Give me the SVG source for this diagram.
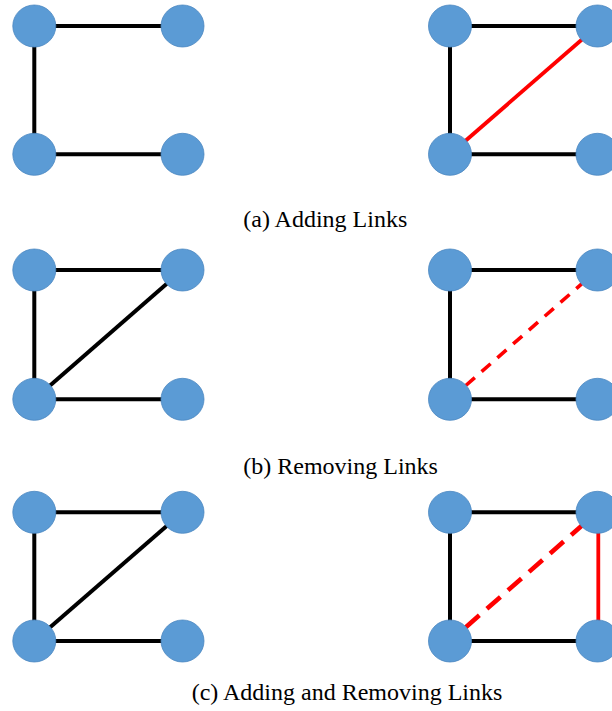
<svg xmlns="http://www.w3.org/2000/svg" width="612" height="711" viewBox="0 0 612 711">
  <style>
    .node { fill: #5B9BD5; stroke: #4A86C0; stroke-width: 0.8; }
    .edge { stroke: #000000; stroke-width: 4; fill: none; }
    .red { stroke: #FF0000; stroke-width: 3.8; fill: none; }
    .dash1 { stroke: #FF0000; stroke-width: 3.6; stroke-dasharray: 12 9; fill: none; }
    .dash2 { stroke: #FF0000; stroke-width: 4.6; stroke-dasharray: 18 10; fill: none; }
    .label { font-family: "Liberation Serif", "Times New Roman", serif; font-size: 24px; fill: #000000; }
  </style>
  <rect width="612" height="711" fill="#FFFFFF"/>
  <g id="connectors">
    <!-- (a) left -->
    <line class="edge" x1="34.3" y1="26" x2="182.5" y2="26"/>
    <line class="edge" x1="34.3" y1="26" x2="34.3" y2="154.3"/>
    <line class="edge" x1="34.3" y1="154.3" x2="182.5" y2="154.3"/>
    <!-- (a) right -->
    <line class="edge" x1="450" y1="26" x2="597.5" y2="26"/>
    <line class="edge" x1="450" y1="26" x2="450" y2="154.3"/>
    <line class="edge" x1="450" y1="154.3" x2="597.5" y2="154.3"/>
    <line class="red" x1="450" y1="154.3" x2="597.5" y2="26"/>
    <!-- (b) left -->
    <line class="edge" x1="34.3" y1="270" x2="182.5" y2="270"/>
    <line class="edge" x1="34.3" y1="270" x2="34.3" y2="399.3"/>
    <line class="edge" x1="34.3" y1="399.3" x2="182.5" y2="399.3"/>
    <line class="edge" x1="34.3" y1="399.3" x2="182.5" y2="270"/>
    <!-- (b) right -->
    <line class="edge" x1="450" y1="270" x2="597.5" y2="270"/>
    <line class="edge" x1="450" y1="270" x2="450" y2="399.3"/>
    <line class="edge" x1="450" y1="399.3" x2="597.5" y2="399.3"/>
    <line class="dash1" x1="465.8" y1="385.5" x2="581.7" y2="283.8"/>
    <!-- (c) left -->
    <line class="edge" x1="34.3" y1="512.3" x2="182.5" y2="512.3"/>
    <line class="edge" x1="34.3" y1="512.3" x2="34.3" y2="641"/>
    <line class="edge" x1="34.3" y1="641" x2="182.5" y2="641"/>
    <line class="edge" x1="34.3" y1="641" x2="182.5" y2="512.3"/>
    <!-- (c) right -->
    <line class="edge" x1="450" y1="512.3" x2="597.5" y2="512.3"/>
    <line class="edge" x1="450" y1="512.3" x2="450" y2="641"/>
    <line class="edge" x1="450" y1="641" x2="597.5" y2="641"/>
    <line class="dash2" x1="465.8" y1="627.2" x2="581.7" y2="525.8"/>
    <line class="red" x1="598.3" y1="512.3" x2="598.3" y2="641"/>
  </g>
  <g id="a-left-tl"><ellipse class="node" cx="34.3" cy="26" rx="21.5" ry="21"/></g>
  <g id="a-left-tr"><ellipse class="node" cx="182.5" cy="26" rx="21.5" ry="21"/></g>
  <g id="a-left-bl"><ellipse class="node" cx="34.3" cy="154.3" rx="21.5" ry="21"/></g>
  <g id="a-left-br"><ellipse class="node" cx="182.5" cy="154.3" rx="21.5" ry="21"/></g>
  <g id="a-right-tl"><ellipse class="node" cx="450" cy="26" rx="21.5" ry="21"/></g>
  <g id="a-right-tr"><ellipse class="node" cx="597.5" cy="26" rx="21.5" ry="21"/></g>
  <g id="a-right-bl"><ellipse class="node" cx="450" cy="154.3" rx="21.5" ry="21"/></g>
  <g id="a-right-br"><ellipse class="node" cx="597.5" cy="154.3" rx="21.5" ry="21"/></g>
  <g id="b-left-tl"><ellipse class="node" cx="34.3" cy="270" rx="21.5" ry="21"/></g>
  <g id="b-left-tr"><ellipse class="node" cx="182.5" cy="270" rx="21.5" ry="21"/></g>
  <g id="b-left-bl"><ellipse class="node" cx="34.3" cy="399.3" rx="21.5" ry="21"/></g>
  <g id="b-left-br"><ellipse class="node" cx="182.5" cy="399.3" rx="21.5" ry="21"/></g>
  <g id="b-right-tl"><ellipse class="node" cx="450" cy="270" rx="21.5" ry="21"/></g>
  <g id="b-right-tr"><ellipse class="node" cx="597.5" cy="270" rx="21.5" ry="21"/></g>
  <g id="b-right-bl"><ellipse class="node" cx="450" cy="399.3" rx="21.5" ry="21"/></g>
  <g id="b-right-br"><ellipse class="node" cx="597.5" cy="399.3" rx="21.5" ry="21"/></g>
  <g id="c-left-tl"><ellipse class="node" cx="34.3" cy="512.3" rx="21.5" ry="21"/></g>
  <g id="c-left-tr"><ellipse class="node" cx="182.5" cy="512.3" rx="21.5" ry="21"/></g>
  <g id="c-left-bl"><ellipse class="node" cx="34.3" cy="641" rx="21.5" ry="21"/></g>
  <g id="c-left-br"><ellipse class="node" cx="182.5" cy="641" rx="21.5" ry="21"/></g>
  <g id="c-right-tl"><ellipse class="node" cx="450" cy="512.3" rx="21.5" ry="21"/></g>
  <g id="c-right-tr"><ellipse class="node" cx="597.5" cy="512.3" rx="21.5" ry="21"/></g>
  <g id="c-right-bl"><ellipse class="node" cx="450" cy="641" rx="21.5" ry="21"/></g>
  <g id="c-right-br"><ellipse class="node" cx="597.5" cy="641" rx="21.5" ry="21"/></g>
  <g id="labels">
    <text class="label" x="243.3" y="226.5">(a) Adding Links</text>
    <text class="label" x="243.3" y="473.5">(b) Removing Links</text>
    <text class="label" x="191.7" y="700">(c) Adding and Removing Links</text>
  </g>
</svg>
